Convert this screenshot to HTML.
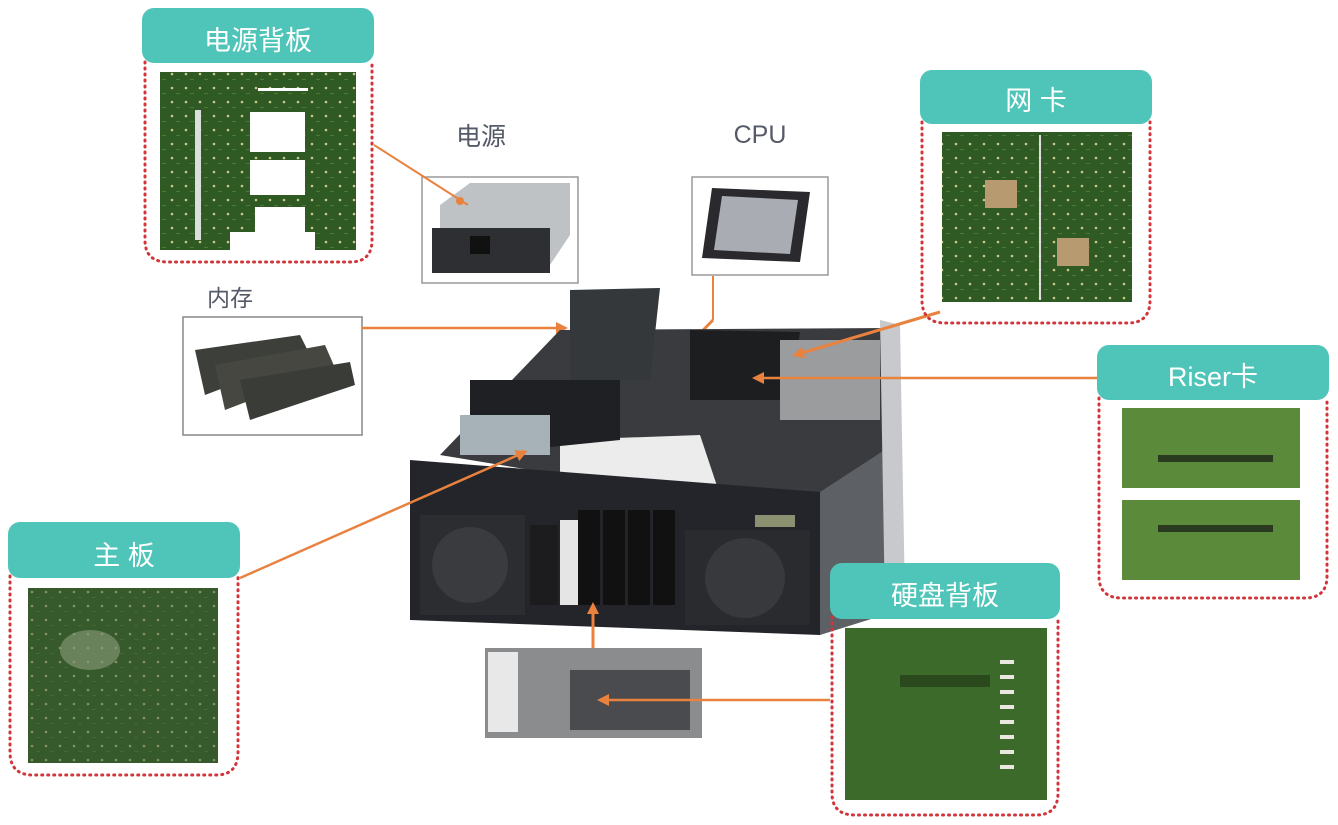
<!DOCTYPE html>
<html><head><meta charset="utf-8"><style>
html,body{margin:0;padding:0;background:#fff;}
svg{display:block}
text{font-family:"Liberation Sans","Noto Sans CJK SC",sans-serif;}
</style></head><body>
<svg width="1338" height="825" viewBox="0 0 1338 825" xmlns="http://www.w3.org/2000/svg">
<defs>
<marker id="ah" markerWidth="12" markerHeight="12" refX="9" refY="6" orient="auto" markerUnits="userSpaceOnUse"><path d="M0,0 L12,6 L0,12 z" fill="#e8823e"/></marker>
<pattern id="pcb" width="14" height="14" patternUnits="userSpaceOnUse"><rect width="14" height="14" fill="#2f5a24"/><circle cx="4" cy="4" r="1.3" fill="#c9c98a"/><rect x="8" y="9" width="4" height="1" fill="#4a7a36"/></pattern>
</defs>

<!-- 电源背板 -->
<rect x="142" y="8" width="232" height="55" rx="12" fill="#4fc4b8"/>
<text x="258" y="50" font-size="27" fill="#fff" text-anchor="middle">电源背板</text>
<path d="M145,62 V240 Q145,262 168,262 H350 Q372,262 372,240 V62" fill="none" stroke="#d2343a" stroke-width="3" stroke-dasharray="1 5" stroke-linecap="round"/>
<rect x="160" y="72" width="196" height="178" fill="url(#pcb)"/>
<rect x="250" y="112" width="55" height="40" fill="#fff"/>
<rect x="250" y="160" width="55" height="35" fill="#fff"/>
<rect x="255" y="207" width="50" height="30" fill="#fff"/>
<rect x="258" y="88" width="50" height="3" fill="#fff"/>
<rect x="195" y="110" width="6" height="130" fill="#ddd"/>
<rect x="230" y="232" width="85" height="20" fill="#fff"/>

<!-- 电源 -->
<text x="481" y="145" font-size="25" fill="#555a68" text-anchor="middle">电源</text>
<rect x="422" y="177" width="156" height="106" fill="#fff" stroke="#999" stroke-width="1.5"/>
<polygon points="440,205 470,183 570,183 570,235 548,268 440,268" fill="#bfc2c4"/>
<rect x="432" y="228" width="118" height="45" fill="#2d2f33"/>
<rect x="470" y="236" width="20" height="18" fill="#111"/>
<line x1="374" y1="145" x2="468" y2="205" stroke="#e8823e" stroke-width="2"/>
<circle cx="460" cy="201" r="4" fill="#e8823e"/>

<!-- CPU -->
<text x="760" y="143" font-size="25" fill="#555a68" text-anchor="middle">CPU</text>
<rect x="692" y="177" width="136" height="98" fill="#fff" stroke="#999" stroke-width="1.5"/>
<polygon points="712,188 810,192 800,262 702,258" fill="#2a2a2e"/>
<polygon points="722,196 798,200 790,254 714,250" fill="#a9adb3"/>
<line x1="713" y1="276" x2="713" y2="320" stroke="#e8823e" stroke-width="2"/>
<line x1="713" y1="320" x2="630" y2="405" stroke="#e8823e" stroke-width="3" marker-end="url(#ah)"/>

<!-- 内存 -->
<text x="230" y="306" font-size="23" fill="#555a68" text-anchor="middle">内存</text>
<rect x="183" y="317" width="179" height="118" fill="#fff" stroke="#888" stroke-width="1.5"/>
<polygon points="195,350 300,335 310,355 205,395" fill="#3d3f3a"/>
<polygon points="215,365 325,345 335,368 225,410" fill="#454740"/>
<polygon points="240,380 350,362 355,385 250,420" fill="#3a3c38"/>
<line x1="362" y1="328" x2="565" y2="328" stroke="#e8823e" stroke-width="2.5" marker-end="url(#ah)"/>

<!-- chassis -->
<polygon points="440,455 560,330 895,328 900,450 880,500 860,500 700,498" fill="#3a3b3e"/>
<polygon points="560,440 700,435 720,495 560,500" fill="#ececec"/>
<polygon points="470,380 620,380 620,440 470,455" fill="#1f2023"/>
<polygon points="690,330 800,332 790,400 690,400" fill="#1d1e20"/>
<polygon points="780,340 880,340 880,420 780,420" fill="#9a9c9e"/>
<polygon points="570,290 660,288 650,380 570,380" fill="#35383a"/>
<rect x="460" y="415" width="90" height="40" fill="#a7b2b8"/>
<polygon points="410,460 820,492 820,635 410,620" fill="#24252a"/>
<polygon points="820,492 900,440 900,610 820,635" fill="#5d6064"/>
<polygon points="880,320 900,325 905,600 885,610" fill="#c7c9cc"/>
<rect x="420" y="515" width="105" height="100" fill="#2c2d30"/>
<circle cx="470" cy="565" r="38" fill="#3a3b3f"/>
<rect x="530" y="525" width="28" height="80" fill="#1c1c1e"/>
<rect x="560" y="520" width="18" height="85" fill="#e5e5e5"/>
<rect x="578" y="510" width="22" height="95" fill="#111"/>
<rect x="603" y="510" width="22" height="95" fill="#111"/>
<rect x="628" y="510" width="22" height="95" fill="#111"/>
<rect x="653" y="510" width="22" height="95" fill="#111"/>
<rect x="685" y="530" width="125" height="95" fill="#2a2b2f"/>
<circle cx="745" cy="578" r="40" fill="#38393d"/>
<rect x="755" y="515" width="40" height="12" fill="#8a9070"/>
<line x1="940" y1="312" x2="795" y2="355" stroke="#e8823e" stroke-width="3" marker-end="url(#ah)"/>
<line x1="1097" y1="378" x2="755" y2="378" stroke="#e8823e" stroke-width="2.5" marker-end="url(#ah)"/>
<line x1="240" y1="578" x2="525" y2="452" stroke="#e8823e" stroke-width="2.5" marker-end="url(#ah)"/>
<line x1="593" y1="648" x2="593" y2="605" stroke="#e8823e" stroke-width="3" marker-end="url(#ah)"/>

<!-- 网卡 -->
<rect x="920" y="70" width="232" height="54" rx="12" fill="#4fc4b8"/>
<text x="1036" y="110" font-size="27" fill="#fff" text-anchor="middle">网  卡</text>
<path d="M922,122 V300 Q922,323 945,323 H1128 Q1150,323 1150,300 V122" fill="none" stroke="#d2343a" stroke-width="3" stroke-dasharray="1 5" stroke-linecap="round"/>
<rect x="942" y="132" width="190" height="170" fill="url(#pcb)"/>
<rect x="985" y="180" width="32" height="28" fill="#b89a70"/>
<rect x="1057" y="238" width="32" height="28" fill="#b89a70"/>
<line x1="1040" y1="135" x2="1040" y2="300" stroke="#ddd" stroke-width="2"/>

<!-- Riser -->
<rect x="1097" y="345" width="232" height="55" rx="12" fill="#4fc4b8"/>
<text x="1213" y="386" font-size="27" fill="#fff" text-anchor="middle">Riser卡</text>
<path d="M1099,398 V576 Q1099,598 1122,598 H1305 Q1327,598 1327,576 V398" fill="none" stroke="#d2343a" stroke-width="3" stroke-dasharray="1 5" stroke-linecap="round"/>
<rect x="1122" y="408" width="178" height="80" fill="#5a8a3a"/>
<rect x="1122" y="500" width="178" height="80" fill="#5a8a3a"/>
<rect x="1158" y="455" width="115" height="7" fill="#2a3a20"/>
<rect x="1158" y="525" width="115" height="7" fill="#2a3a20"/>

<!-- 主板 -->
<rect x="8" y="522" width="232" height="56" rx="12" fill="#4fc4b8"/>
<text x="124" y="565" font-size="27" fill="#fff" text-anchor="middle">主  板</text>
<path d="M10,576 V752 Q10,775 33,775 H216 Q238,775 238,752 V576" fill="none" stroke="#d2343a" stroke-width="3" stroke-dasharray="1 5" stroke-linecap="round"/>
<rect x="28" y="588" width="190" height="175" fill="#3f5a35"/>
<rect x="28" y="588" width="190" height="175" fill="url(#pcb)" opacity="0.5"/>
<ellipse cx="90" cy="650" rx="30" ry="20" fill="#8a9c7a" opacity="0.6"/>

<!-- bottom photo -->
<rect x="485" y="648" width="217" height="90" fill="#8a8c8e"/>
<rect x="488" y="652" width="30" height="80" fill="#e8e8e8"/>
<rect x="570" y="670" width="120" height="60" fill="#4a4b4e"/>
<line x1="830" y1="700" x2="600" y2="700" stroke="#e8823e" stroke-width="2.5" marker-end="url(#ah)"/>

<!-- 硬盘背板 -->
<rect x="830" y="563" width="230" height="56" rx="12" fill="#4fc4b8"/>
<text x="945" y="605" font-size="27" fill="#fff" text-anchor="middle">硬盘背板</text>
<path d="M832,617 V793 Q832,815 855,815 H1036 Q1058,815 1058,793 V617" fill="none" stroke="#d2343a" stroke-width="3" stroke-dasharray="1 5" stroke-linecap="round"/>
<rect x="845" y="628" width="202" height="172" fill="#3c6a2a"/>
<rect x="900" y="675" width="90" height="12" fill="#2a4a1e"/>
<g fill="#e8e8e0"><rect x="1000" y="660" width="14" height="4"/><rect x="1000" y="675" width="14" height="4"/><rect x="1000" y="690" width="14" height="4"/><rect x="1000" y="705" width="14" height="4"/><rect x="1000" y="720" width="14" height="4"/><rect x="1000" y="735" width="14" height="4"/><rect x="1000" y="750" width="14" height="4"/><rect x="1000" y="765" width="14" height="4"/></g>
</svg>
</body></html>
